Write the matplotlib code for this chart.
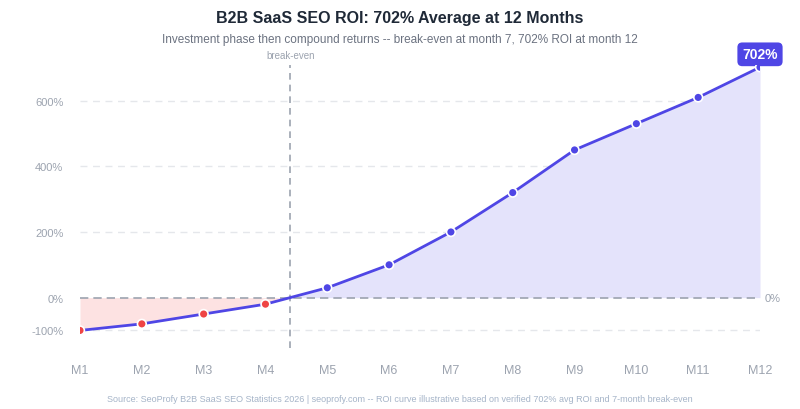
import numpy as np
import matplotlib
matplotlib.use("Agg")
import matplotlib.pyplot as plt

months = ["M1", "M2", "M3", "M4", "M5", "M6", "M7", "M8", "M9", "M10", "M11", "M12"]
roi = [-100, -80, -50, -20, 30, 100, 200, 320, 450, 530, 610, 702]
breakeven_x = 3.4
yticks = [-100, 0, 200, 400, 600]

plt.rcParams['font.family'] = ['Liberation Sans', 'DejaVu Sans']
fig = plt.figure(figsize=(8, 4.1), dpi=100)
ax = fig.add_axes([0.1, 0.15, 0.85, 0.69])

x = np.arange(len(months))
y = np.array(roi, dtype=float)
purple = '#4f46e5'

ax.fill_between(x, y, 0, where=y >= 0, interpolate=True, color='#e4e3fb', lw=0)
ax.fill_between(x, y, 0, where=y <= 0, interpolate=True, color='#fde2e2', lw=0)
ax.plot(x, y, color=purple, lw=2, zorder=3)
cols = ['#ef4444' if v < 0 else purple for v in y]
ax.scatter(x, y, s=40, c=cols, edgecolors='white', linewidths=1.2, zorder=4)

for t in [200, 400, 600, -100]:
    ax.axhline(t, color='#e5e7eb', lw=1, ls=(0, (5, 4)), zorder=0)
ax.axhline(0, color='#9ca3af', lw=1.2, ls=(0, (5, 3)), zorder=2)
ax.axvline(breakeven_x, color='#9ca3af', lw=1.2, ls=(0, (4, 3)), zorder=2)
ax.text(breakeven_x, 725, 'break-even', ha='center', va='bottom', fontsize=7, color='#9ca3af')

ax.text(x[-1], y[-1] + 18, f'{roi[-1]}%', ha='center', va='bottom', fontsize=10,
        fontweight='bold', color='white',
        bbox=dict(boxstyle='round,pad=0.35', fc=purple, ec='none'))
ax.text(x[-1] + 0.08, 0, '0%', ha='left', va='center', fontsize=8, color='#9ca3af')

ax.set_xlim(0, len(months) - 1)
ax.set_ylim(-152, 710)
ax.set_xticks(x)
ax.set_xticklabels(months)
ax.set_yticks(yticks)
ax.set_yticklabels([f'{t}%' for t in yticks])
ax.tick_params(length=0, colors='#9ca3af', labelsize=8, pad=12)
ax.tick_params(axis='x', labelsize=9)
for s in ax.spines.values():
    s.set_visible(False)
ax.set_clip_on(False)

fig.text(0.5, 0.955, 'B2B SaaS SEO ROI: 702% Average at 12 Months', ha='center', va='center',
         fontsize=11.5, fontweight='bold', color='#1f2937')
fig.text(0.5, 0.902, 'Investment phase then compound returns -- break-even at month 7, 702% ROI at month 12',
         ha='center', va='center', fontsize=8.5, color='#6b7280')
fig.text(0.5, 0.025, 'Source: SeoProfy B2B SaaS SEO Statistics 2026 | seoprofy.com -- ROI curve illustrative based on verified 702% avg ROI and 7-month break-even',
         ha='center', va='center', fontsize=6.5, color='#a5b4c8')

fig.savefig('out.png', dpi=100)
